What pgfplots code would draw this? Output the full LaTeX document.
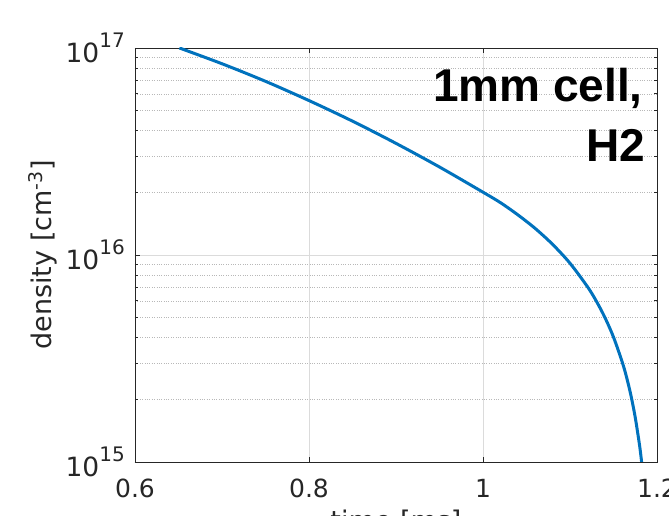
\documentclass[border=0pt]{standalone}
\usepackage{fontspec}
\setmainfont{DejaVu Sans}
\newfontfamily\arialfont{Liberation Sans}
\usepackage{pgfplots}
\pgfplotsset{compat=1.18}
\definecolor{mblue}{rgb}{0,0.447,0.741}
\definecolor{axgray}{RGB}{38,38,38}
\newcommand{\tenpow}[1]{10\raisebox{15bp}{\fontsize{20bp}{22bp}\selectfont #1}}
\begin{document}
\begin{tikzpicture}
\clip (-135bp,-54bp) rectangle (534bp,462bp);
\begin{axis}[
  scale only axis, width=522bp, height=414bp,
  at={(0,0)}, anchor=south west,
  xmin=0.6, xmax=1.2, ymode=log, ymin=1e15, ymax=1e17,
  xtick={0.6,0.8,1,1.2}, xticklabels={0.6,0.8,1,1.2},
  ytick={1e15,1e16,1e17}, yticklabels={\tenpow{15},\tenpow{16},\tenpow{17}},
  tick align=inside, major tick length=5bp, minor tick length=3bp,
  axis line style={draw=axgray, line width=0.9bp},
  every tick/.style={draw=axgray, line width=0.8bp},
  xmajorgrids, ymajorgrids, yminorgrids,
  major grid style={draw=black!14, line width=0.7bp},
  minor grid style={draw=black!28, dotted, line width=0.6bp},
  xticklabel style={font=\fontsize{25bp}{30bp}\selectfont, text=axgray, anchor=north, inner sep=0pt, yshift=-17bp},
  yticklabel style={font=\fontsize{26.5bp}{30bp}\selectfont, text=axgray, anchor=east, inner sep=0pt, xshift=-10bp},
  ylabel={density [cm\textsuperscript{-3}]},
  ylabel style={font=\fontsize{27bp}{32bp}\selectfont, text=axgray, at={(axis description cs:-0.176,0.5)}, anchor=center, rotate=0},
  xlabel={time [ms]},
  xlabel style={font=\fontsize{27bp}{32bp}\selectfont, text=axgray, at={(axis description cs:0.5,0)}, anchor=north, inner sep=0pt, yshift=-48bp},
]
\addplot[mblue, line width=3bp, smooth, tension=0.5] coordinates {
(0.651,1.000e17)
(0.700,8.39e16)
(0.750,6.90e16)
(0.800,5.57e16)
(0.850,4.43e16)
(0.900,3.46e16)
(0.950,2.66e16)
(1.000,2.01e16)
(1.020,1.79e16)
(1.040,1.563e16)
(1.060,1.343e16)
(1.080,1.125e16)
(1.100,9.12e15)
(1.120,7.03e15)
(1.130,6.01e15)
(1.140,5.00e15)
(1.150,4.01e15)
(1.160,3.04e15)
(1.165,2.57e15)
(1.170,2.10e15)
(1.175,1.64e15)
(1.180,1.20e15)
(1.1823,1.00e15)
};
\node[anchor=base east, inner sep=0pt, font=\arialfont\bfseries\fontsize{46bp}{50bp}\selectfont] at ([xshift=-14bp,yshift=-54bp]rel axis cs:1,1) {1mm cell,};
\node[anchor=base east, inner sep=0pt, font=\arialfont\bfseries\fontsize{46bp}{50bp}\selectfont] at ([xshift=-12bp,yshift=-114bp]rel axis cs:1,1) {H2};
\end{axis}
\end{tikzpicture}
\end{document}
